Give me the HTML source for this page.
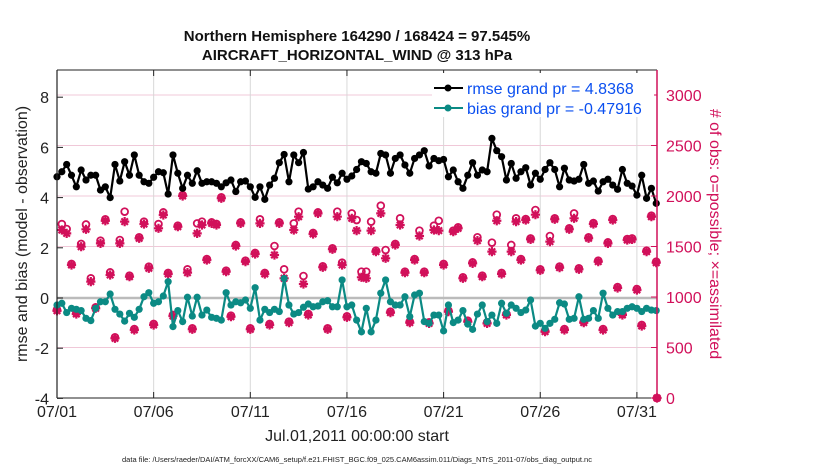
<!DOCTYPE html>
<html><head><meta charset="utf-8"><style>
body{margin:0;background:#fff;width:830px;height:470px;overflow:hidden;font-family:"Liberation Sans",sans-serif}
</style></head><body>
<svg id="chart" width="830" height="470" xmlns="http://www.w3.org/2000/svg" font-family="Liberation Sans, sans-serif"></svg>
<script>
const rmse=[4.83,5.03,5.32,4.89,4.43,5.10,4.70,4.89,4.89,4.30,4.43,4.00,5.32,4.66,5.43,4.89,5.70,4.89,4.63,4.57,4.81,5.03,4.99,4.14,5.70,4.97,4.37,4.89,4.57,5.07,4.57,4.63,4.63,
4.57,4.43,4.59,4.70,4.24,4.63,4.66,4.43,4.01,4.43,3.93,4.50,4.77,5.39,5.72,4.63,5.70,5.39,5.80,4.34,4.43,4.63,4.50,4.37,4.81,4.59,4.97,4.73,4.86,5.12,5.43,
5.36,5.03,4.97,5.76,5.70,4.97,5.56,5.70,5.30,4.97,5.56,5.70,5.87,5.26,5.56,5.47,5.52,4.83,5.10,4.63,4.37,4.89,5.39,4.89,5.10,5.03,6.36,5.87,5.63,4.70,5.36,4.77,
5.03,5.19,4.50,4.97,4.73,5.12,5.39,5.12,4.43,5.17,4.70,4.66,4.73,5.32,4.57,4.66,4.26,4.63,4.73,4.50,4.33,5.12,4.57,4.46,4.10,4.89,3.97,4.37,3.77];
const bias=[-0.28,-0.21,-0.58,-0.41,-0.45,-0.50,-0.81,-0.90,-0.41,-0.15,-0.15,0.16,-0.45,-0.64,-0.92,-0.61,-0.77,-0.45,0.05,0.21,-0.21,-0.15,0.08,0.65,-1.14,-0.50,-0.94,0.03,-0.72,0.03,-0.68,-0.48,-0.77,
-0.81,-0.88,0.21,-0.28,-0.15,-0.19,-0.08,-0.41,0.41,-0.88,-0.45,-0.58,-0.45,-0.54,0.78,-0.28,-0.64,-0.58,-0.37,-0.24,-0.35,-0.32,-0.15,-0.11,-0.35,-0.35,0.72,-0.35,-0.28,-0.88,-1.35,
-0.41,-1.35,-0.88,0.19,0.72,-0.15,-0.28,-0.28,0.05,-0.74,0.12,0.19,-0.94,-1.01,-0.68,-0.68,-1.31,-0.28,-0.98,-0.88,-0.50,-1.04,-1.25,-0.64,-0.28,-0.94,-0.68,-1.01,-0.21,-0.61,-0.28,-0.41,
-0.58,-0.48,-0.08,-1.12,-1.01,-1.21,-1.01,-0.85,-0.19,-0.24,-0.85,-0.81,0.05,-0.85,-0.81,-0.50,-0.81,0.19,-0.41,-0.68,-0.54,-0.54,-0.41,-0.35,-0.41,-0.54,-0.41,-0.48,-0.50];
const nAssim=[864,1663,1630,1317,832,1498,1670,1152,888,1531,1755,1218,591,1531,1746,1201,673,1581,1722,1284,723,1680,1812,1228,812,1696,2000,1241,680,1630,1713,1366,1729,
1713,1977,1251,805,1505,1729,1350,680,1426,1729,1228,723,1416,1729,1185,746,1663,1795,1129,822,1624,1828,1294,680,1472,1795,1317,799,1779,1657,1195,
1185,1657,1449,1828,1383,845,1515,1713,1241,746,1366,1604,1241,739,1663,1657,1317,855,1647,1680,1185,756,1333,1558,1201,739,1449,1755,1228,822,1449,1746,
1366,1762,1570,1815,1264,657,1548,1769,1291,673,1670,1779,1274,746,1581,1722,1350,673,1531,1762,1089,822,1564,1570,1069,713,1449,1795,1340,0];
const nPoss=[874,1722,1673,1327,842,1525,1718,1185,898,1558,1769,1244,601,1564,1845,1211,683,1591,1746,1300,733,1722,1838,1238,822,1706,2010,1274,690,1729,1746,1376,1739,
1723,1987,1261,815,1515,1739,1360,690,1436,1769,1238,733,1505,1739,1274,756,1729,1845,1208,832,1634,1838,1304,690,1482,1845,1340,809,1828,1762,1251,
1251,1746,1459,1904,1465,855,1525,1779,1251,756,1376,1657,1251,749,1706,1755,1327,865,1657,1690,1195,766,1343,1591,1211,749,1538,1815,1238,832,1515,1779,
1376,1772,1580,1861,1274,667,1604,1779,1301,683,1680,1828,1284,756,1591,1732,1360,683,1541,1772,1099,832,1574,1580,1079,723,1459,1805,1350,0];
const leftTicks=[-4,-2,0,2,4,6,8];
const rightTicks=[0,500,1000,1500,2000,2500,3000];
const dateTicks=["07/01","07/06","07/11","07/16","07/21","07/26","07/31"];
const dateTickDays=[0,5,10,15,20,25,30];
const stepDays=0.25;

const X0=57,X1=657,Y0=70,Y1=398;
const pxPerDay=19.33;
const xS=d=>Math.min(X1,X0+d*pxPerDay);
const yL=v=>298-(v)*25.1;
const yR=v=>398-v*(50.5/500);
const NS="http://www.w3.org/2000/svg";
const svg=document.getElementById('chart');
function el(tag,attrs,parent){const e=document.createElementNS(NS,tag);for(const k in attrs)e.setAttribute(k,attrs[k]);(parent||svg).appendChild(e);return e;}
const MAG="#d1105a",TEAL="#0b8a84";

rightTicks.forEach(v=>{if(v===0||v===1000)return;const l=el('line',{x1:X0,x2:X1,y1:yR(v),y2:yR(v),stroke:'#f0c8d8','stroke-width':1});

});
dateTickDays.forEach(d=>{if(d===0)return;const l=el('line',{x1:xS(d),x2:xS(d),y1:Y0,y2:Y1,stroke:'#d8d8d8','stroke-width':1});

});
const zl=el('line',{x1:X0,x2:X1,y1:yL(0),y2:yL(0),stroke:'#bbb','stroke-width':2.5});



const gObs=el('g',{});


nPoss.forEach((v,i)=>{const c=el('circle',{cx:xS(i*stepDays),cy:yR(v),r:3.4,fill:'none',stroke:MAG,'stroke-width':1.8},gObs);

});
nAssim.forEach((v,i)=>{const x=xS(i*stepDays),y=yR(v),r=4.6,d=r*0.707;
const p=el('path',{d:`M${x-r},${y}H${x+r}M${x},${y-r}V${y+r}M${x-d},${y-d}L${x+d},${y+d}M${x-d},${y+d}L${x+d},${y-d}`,stroke:MAG,'stroke-width':2.2,fill:'none'},gObs);

});

function series(data,color,name){
  const g=el('g',{});
  
  
  const pts=data.map((v,i)=>xS(i*stepDays).toFixed(1)+','+yL(v).toFixed(1)).join(' ');
  el('polyline',{points:pts,fill:'none',stroke:color,'stroke-width':2.2,'stroke-linejoin':'round'},g);
  data.forEach((v,i)=>{const c=el('circle',{cx:xS(i*stepDays),cy:yL(v),r:3.6,fill:color},g);
  
  });
}
series(bias,TEAL,'bias-series');
series(rmse,'#000','rmse-series');

const ax=el('g',{});


el('line',{x1:X0,x2:X1,y1:Y0,y2:Y0,stroke:'#222','stroke-width':1},ax);
el('line',{x1:X0,x2:X1,y1:Y1,y2:Y1,stroke:'#222','stroke-width':1},ax);
el('line',{x1:X0,x2:X0,y1:Y0,y2:Y1,stroke:'#222','stroke-width':1.2},ax);
el('line',{x1:X1,x2:X1,y1:Y0,y2:Y1,stroke:MAG,'stroke-width':1.5},ax);
leftTicks.forEach(v=>{el('line',{x1:X0,x2:X0+6,y1:yL(v),y2:yL(v),stroke:'#222'},ax);
const t=el('text',{x:X0-8,y:yL(v)+6,'text-anchor':'end','font-size':16,fill:'#222'},ax);t.textContent=v;

});
rightTicks.forEach(v=>{el('line',{x1:X1-6,x2:X1,y1:yR(v),y2:yR(v),stroke:MAG},ax);
const t=el('text',{x:X1+9,y:yR(v)+6,'font-size':16,fill:MAG},ax);t.textContent=v;

});
dateTicks.forEach((s,i)=>{const x=xS(dateTickDays[i]);
el('line',{x1:x,x2:x,y1:Y1,y2:Y1-6,stroke:'#222'},ax);el('line',{x1:x,x2:x,y1:Y0,y2:Y0+6,stroke:'#222'},ax);
const t=el('text',{x:x,y:417,'text-anchor':'middle','font-size':16,fill:'#222'},ax);t.textContent=s;

});
</script>
<svg style="position:absolute;left:0;top:0" width="830" height="470">
<text x="357" y="41" text-anchor="middle" font-size="15" font-weight="bold" font-family="Liberation Sans, sans-serif" fill="#111">Northern Hemisphere 164290 / 168424 = 97.545%</text>
<text x="357" y="60" text-anchor="middle" font-size="15" font-weight="bold" font-family="Liberation Sans, sans-serif" fill="#111">AIRCRAFT_HORIZONTAL_WIND @ 313 hPa</text>
<text transform="translate(27,234) rotate(-90)" text-anchor="middle" font-size="16" font-family="Liberation Sans, sans-serif" fill="#222">rmse and bias (model - observation)</text>
<text transform="translate(710,234) rotate(90)" text-anchor="middle" font-size="16" font-family="Liberation Sans, sans-serif" fill="#d1105a"># of obs: o=possible; ×=assimilated</text>
<text x="357" y="441" text-anchor="middle" font-size="16" font-family="Liberation Sans, sans-serif" fill="#222">Jul.01,2011 00:00:00 start</text>
<text x="357" y="462" text-anchor="middle" font-size="7.5" font-family="Liberation Sans, sans-serif" fill="#222">data file: /Users/raeder/DAI/ATM_forcXX/CAM6_setup/f.e21.FHIST_BGC.f09_025.CAM6assim.011/Diags_NTrS_2011-07/obs_diag_output.nc</text>
<g>
<rect x="432" y="73" width="222" height="44" fill="#fff"/>
<g>
<line x1="434" x2="463" y1="88" y2="88" stroke="#000" stroke-width="2"/><circle cx="448" cy="88" r="3.5" fill="#000"/>
<text x="467" y="94" font-size="16" font-family="Liberation Sans, sans-serif" fill="#0a4ff0">rmse grand pr = 4.8368</text></g>
<g>
<line x1="434" x2="463" y1="108" y2="108" stroke="#0b8a84" stroke-width="2"/><circle cx="448" cy="108" r="3.5" fill="#0b8a84"/>
<text x="467" y="114" font-size="16" font-family="Liberation Sans, sans-serif" fill="#0a4ff0">bias grand pr = -0.47916</text></g>
</g>
</svg>
</body></html>
